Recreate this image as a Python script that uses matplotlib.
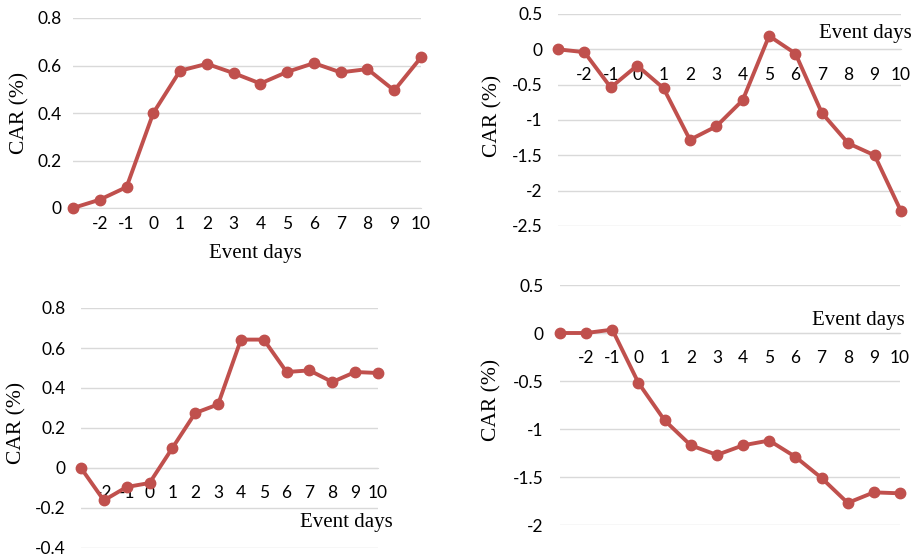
import matplotlib
matplotlib.use("Agg")
import matplotlib.pyplot as plt
from matplotlib.ticker import FuncFormatter

plt.rcParams["axes.unicode_minus"] = False

# event days (first category has no label on the axis)
days = list(range(-3, 11))
day_labels = [""] + [str(d) for d in range(-2, 11)]

car_a = [0.0, 0.035, 0.088, 0.40, 0.578, 0.607, 0.568, 0.524, 0.573, 0.61, 0.571, 0.585, 0.495, 0.634]
car_b = [0.0, -0.04, -0.54, -0.23, -0.55, -1.28, -1.09, -0.72, 0.19, -0.06, -0.90, -1.33, -1.50, -2.29]
car_c = [0.0, -0.162, -0.095, -0.075, 0.10, 0.275, 0.318, 0.642, 0.642, 0.48, 0.488, 0.43, 0.48, 0.475]
car_d = [0.0, 0.0, 0.035, -0.52, -0.91, -1.17, -1.27, -1.17, -1.12, -1.29, -1.51, -1.77, -1.66, -1.67]

yticks_a = [0, 0.2, 0.4, 0.6, 0.8]
yticks_b = [-2.5, -2, -1.5, -1, -0.5, 0, 0.5]
yticks_c = [-0.4, -0.2, 0, 0.2, 0.4, 0.6, 0.8]
yticks_d = [-2, -1.5, -1, -0.5, 0, 0.5]

RED = "#C0504D"
GRID = "#D9D9D9"
W, H = 918, 558
SANS = "Lato"
SERIF = "Liberation Serif"


def make_axes(fig, x0, y0, x1, y1):
    return fig.add_axes([x0 / W, 1 - y1 / H, (x1 - x0) / W, (y1 - y0) / H])


def panel(ax, values, yticks, xpad, ypad, ylab_xy, xlab_xy, xlab_ha):
    ax.plot(days, values, color=RED, lw=2.8, marker="o", ms=7.5, clip_on=False, zorder=3)
    ax.set_xlim(days[0], days[-1])
    ax.set_ylim(yticks[0], yticks[-1])
    ax.set_yticks(yticks)
    ax.yaxis.set_major_formatter(FuncFormatter(lambda v, p: f"{v:g}"))
    ax.set_xticks(days)
    ax.set_xticklabels(day_labels)
    ax.grid(axis="y", color=GRID, lw=1.0)
    ax.set_axisbelow(True)
    for side in ("top", "right", "left"):
        ax.spines[side].set_visible(False)
    ax.spines["bottom"].set_position(("data", 0))
    ax.spines["bottom"].set_color(GRID)
    ax.tick_params(axis="x", length=0, pad=xpad, labelsize=12.5)
    ax.tick_params(axis="y", length=0, pad=ypad, labelsize=12.5)
    for lab in ax.get_xticklabels() + ax.get_yticklabels():
        lab.set_fontfamily(SANS)
    ax.set_ylabel("CAR (%)", fontfamily=SERIF, fontsize=15.5, va="center")
    ax.yaxis.set_label_coords(*ylab_xy)
    ax.text(xlab_xy[0], xlab_xy[1], "Event days", transform=ax.transAxes,
            ha=xlab_ha, va="center", fontfamily=SERIF, fontsize=15)


fig = plt.figure(figsize=(W / 100, H / 100), dpi=100)

ax1 = make_axes(fig, 73, 18, 421, 208)
panel(ax1, car_a, yticks_a, 6, 8, (-0.152, 0.5), (0.523, -0.24), "center")

ax2 = make_axes(fig, 558, 14, 901, 226)
panel(ax2, car_b, yticks_b, 12.5, 11, (-0.19, 0.52), (1.032, 0.906), "right")

ax3 = make_axes(fig, 81, 308, 378, 548)
panel(ax3, car_c, yticks_c, 12.5, 11, (-0.215, 0.52), (1.05, 0.108), "right")

ax4 = make_axes(fig, 560, 285, 900, 525)
panel(ax4, car_d, yticks_d, 12.5, 12, (-0.2, 0.52), (1.015, 0.854), "right")

fig.savefig("out.png", dpi=100)
